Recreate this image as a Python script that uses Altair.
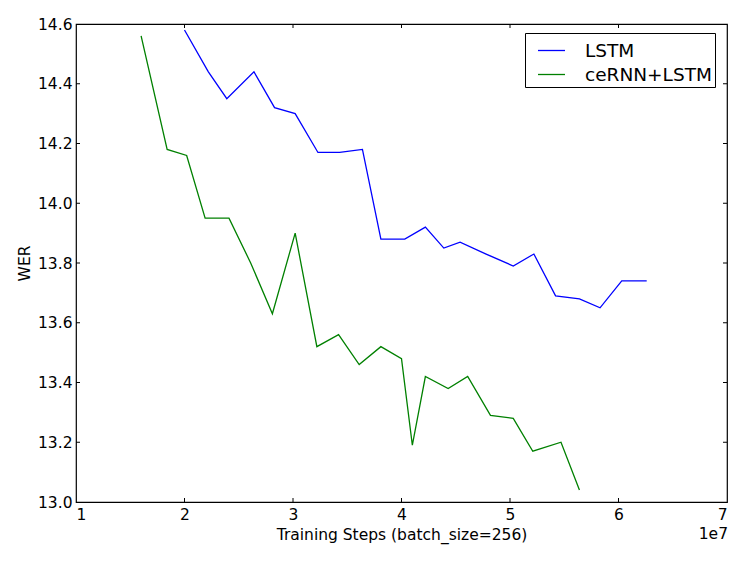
import altair as alt
import pandas as pd

# data (steps in units of 1e7)
lstm_steps = [2.0, 2.22, 2.39, 2.64, 2.83, 3.02, 3.23, 3.43, 3.64, 3.81, 4.03,
              4.22, 4.39, 4.54, 4.78, 5.03, 5.22, 5.42, 5.64, 5.83, 6.03, 6.26]
lstm_wer = [14.58, 14.44, 14.35, 14.44, 14.32, 14.30, 14.17, 14.17, 14.18, 13.88, 13.88,
            13.92, 13.85, 13.87, 13.83, 13.79, 13.83, 13.69, 13.68, 13.65, 13.74, 13.74]
ce_steps = [1.60, 1.84, 2.02, 2.19, 2.41, 2.61, 2.81, 3.02, 3.22, 3.42, 3.61,
            3.81, 4.00, 4.10, 4.22, 4.43, 4.61, 4.82, 5.03, 5.21, 5.47, 5.64]
ce_wer = [14.56, 14.18, 14.16, 13.95, 13.95, 13.80, 13.63, 13.90, 13.52, 13.56, 13.46,
          13.52, 13.48, 13.19, 13.42, 13.38, 13.42, 13.29, 13.28, 13.17, 13.20, 13.04]
series_names = ["LSTM", "ceRNN+LSTM"]
series_colors = ["#0000ff", "#008000"]
x_ticks = [1, 2, 3, 4, 5, 6, 7]
y_ticks = [13.0, 13.2, 13.4, 13.6, 13.8, 14.0, 14.2, 14.4, 14.6]

W, H = 651, 478
FONT = "DejaVu Sans"

rows = []
for s, w in zip(lstm_steps, lstm_wer):
    rows.append({"step": s * 1e7, "wer": w, "model": series_names[0]})
for s, w in zip(ce_steps, ce_wer):
    rows.append({"step": s * 1e7, "wer": w, "model": series_names[1]})
df = pd.DataFrame(rows)

xscale = alt.Scale(domain=[1e7, 7e7], nice=False, zero=False)
yscale = alt.Scale(domain=[13.0, 14.6], nice=False, zero=False)

xaxis = alt.Axis(values=[v * 1e7 for v in x_ticks], labelExpr="format(datum.value/1e7, 'd')",
                 tickSize=0, domain=False, grid=False, labelPadding=5,
                 labelFont=FONT, labelFontSize=15.5, labelColor="black",
                 title="Training Steps (batch_size=256)", titleFont=FONT, titleFontSize=15.5,
                 titleFontWeight="normal", titleColor="black", titleBaseline="alphabetic",
                 titleX=W / 2, titleY=37.6, titleAlign="center")
yaxis = alt.Axis(values=y_ticks, format=".1f", tickSize=0, domain=False, grid=False,
                 labelPadding=4, labelFont=FONT, labelFontSize=15.5, labelColor="black",
                 title="WER", titleFont=FONT, titleFontSize=15.5, titleFontWeight="normal",
                 titleColor="black", titleAngle=-90, titleBaseline="middle", titleAlign="center",
                 titleX=-52, titleY=H / 2)

lines = alt.Chart(df).mark_line(strokeWidth=1.3).encode(
    x=alt.X("step:Q", scale=xscale, axis=xaxis),
    y=alt.Y("wer:Q", scale=yscale, axis=yaxis),
    color=alt.Color("model:N",
                    scale=alt.Scale(domain=series_names, range=series_colors),
                    legend=alt.Legend(title=None, orient="none", legendX=449, legendY=9,
                                      symbolType="stroke", symbolSize=729, symbolStrokeWidth=1.3,
                                      labelFont=FONT, labelFontSize=18.5, labelColor="black",
                                      padding=3, rowPadding=0, symbolOffset=9, labelOffset=19,
                                      strokeColor="black", fillColor="white", cornerRadius=0)),
    order="step:Q",
    detail="model:N",
)

xt = pd.DataFrame({"t": [v * 1e7 for v in x_ticks[1:-1]]})
yt = pd.DataFrame({"v": y_ticks[1:-1]})

xb = alt.Chart(xt).mark_rule(color="black", strokeWidth=1).encode(
    x=alt.X("t:Q", scale=xscale), y=alt.value(H), y2=alt.value(H - 4))
xtop = alt.Chart(xt).mark_rule(color="black", strokeWidth=1).encode(
    x=alt.X("t:Q", scale=xscale), y=alt.value(0), y2=alt.value(4))
yl = alt.Chart(yt).mark_rule(color="black", strokeWidth=1).encode(
    y=alt.Y("v:Q", scale=yscale), x=alt.value(0), x2=alt.value(4))
yr = alt.Chart(yt).mark_rule(color="black", strokeWidth=1).encode(
    y=alt.Y("v:Q", scale=yscale), x=alt.value(W), x2=alt.value(W - 4))

offset = alt.Chart(pd.DataFrame({"x": [7e7], "y": [13.0], "t": ["1e7"]})).mark_text(
    align="right", baseline="alphabetic", dy=36.5, dx=1, font=FONT, fontSize=15.5, color="black"
).encode(x=alt.X("x:Q", scale=xscale), y=alt.Y("y:Q", scale=yscale), text="t:N")

chart = alt.layer(lines, xb, xtop, yl, yr, offset).properties(
    width=W, height=H,
    autosize=alt.AutoSizeParams(type="none"),
    padding={"left": 68, "top": 16, "right": 10, "bottom": 50},
    background="white",
).configure_view(stroke="black", strokeWidth=1.2)

chart.save("out.html", embed_options={"renderer": "svg", "actions": False})
